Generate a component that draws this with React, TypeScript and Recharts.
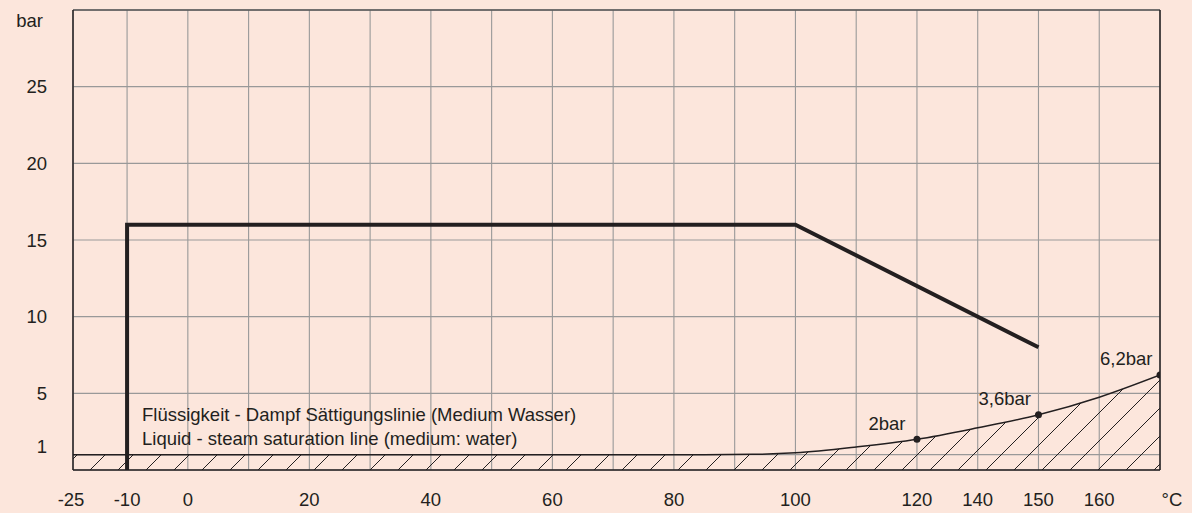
import React from "react";
import {
  ComposedChart,
  XAxis,
  YAxis,
  CartesianGrid,
  Area,
  Line,
  Scatter,
  LabelList,
  ReferenceLine,
  ReferenceDot,
} from "recharts";

// x positions are grid columns (the temperature axis is not linear)
const xTickPos = [-0.89, 0, 1, 2, 3, 4, 5, 6, 7, 8, 9, 10, 11, 12, 13, 14, 15, 16, 17];
const xTickLabels = [
  "-25", "-10", "0", "", "20", "", "40", "", "60", "", "80", "",
  "100", "", "120", "140", "150", "160", "°C",
];

const yTicks = [1, 5, 10, 15, 20, 25, 30];
const yTickLabels = ["1", "5", "10", "15", "20", "25", "bar"];

// max. operating pressure
const limitPos = [0, 0, 11, 15];
const limitBar = [0, 16, 16, 8];

// saturation line (hatched area below)
const satPos = [-0.89, 0, 2, 4, 6, 8, 9.5, 10.3, 11, 12, 13, 14, 15, 16, 17];
const satBar = [1, 1, 1, 1, 1, 1, 1, 1.02, 1.12, 1.5, 2, 2.75, 3.6, 4.75, 6.2];

const markPos = [13, 15, 17];
const markBar = [2, 3.6, 6.2];
const markLabels = ["2bar", "3,6bar", "6,2bar"];

const noteLines = [
  "Flüssigkeit - Dampf Sättigungslinie (Medium Wasser)",
  "Liquid - steam saturation line (medium: water)",
];

const limitData = limitPos.map((pos, i) => ({ pos, p: limitBar[i] }));
const satData = satPos.map((pos, i) => ({ pos, p: satBar[i] }));
const markData = markPos.map((pos, i) => ({ pos, p: markBar[i], label: markLabels[i] }));

const BG = "#FCE6DC";
const INK = "#231f20";
const FONT = "'Liberation Sans', Arial, sans-serif";
const FS = 18.5;

const XTick = (props: any) => {
  const { x, y, payload } = props;
  const i = xTickPos.indexOf(payload.value);
  const label = xTickLabels[i] ?? "";
  const dx = label === "°C" ? 12 : label === "-25" ? -2 : 0;
  return (
    <text x={x + dx} y={y} dy={36} textAnchor="middle" fontSize={FS} fill={INK} fontFamily={FONT}>
      {label}
    </text>
  );
};

const YTick = (props: any) => {
  const { x, y, payload } = props;
  const i = yTicks.indexOf(payload.value);
  const label = yTickLabels[i] ?? "";
  let dy = 6.5;
  let dx = -26;
  if (label === "1") dy = -1.5;
  if (label === "bar") {
    dy = 17;
    dx = -30;
  }
  return (
    <text x={x + dx} y={y} dy={dy} textAnchor="end" fontSize={FS} fill={INK} fontFamily={FONT}>
      {label}
    </text>
  );
};

const MarkLabel = (props: any) => {
  const { x, y, value } = props;
  const dx = value === "2bar" ? -7 : -3;
  return (
    <text x={x + dx} y={y} dy={-5} textAnchor="end" fontSize={FS} fill={INK} fontFamily={FONT}>
      {value}
    </text>
  );
};

const Note = (props: any) => {
  const { viewBox } = props;
  return (
    <text x={viewBox.x} y={viewBox.y} fontSize={FS} fill={INK} fontFamily={FONT}>
      {noteLines.map((t, i) => (
        <tspan key={i} x={viewBox.x} dy={i === 0 ? 0 : 24}>
          {t}
        </tspan>
      ))}
    </text>
  );
};

const MarkDot = (props: any) => <circle cx={props.cx} cy={props.cy} r={3.5} fill={INK} />;

export default function App() {
  return (
    <div style={{ position: "fixed", left: 0, top: 0, width: 1192, height: 513, background: BG }}>
      <svg width={0} height={0} style={{ position: "absolute" }}>
        <defs>
          <pattern id="hatch" patternUnits="userSpaceOnUse" width={28} height={28}>
            <path d="M0,28 L28,0 M-7,7 L7,-7 M21,35 L35,21" stroke={INK} strokeWidth={1} />
          </pattern>
        </defs>
      </svg>
      <ComposedChart
        width={1192}
        height={513}
        margin={{ top: 10, right: 32, bottom: 0, left: 0 }}
      >
        <CartesianGrid stroke="#999999" strokeWidth={1.1} />
        <XAxis
          dataKey="pos"
          type="number"
          domain={[-0.89, 17]}
          ticks={xTickPos}
          interval={0}
          allowDataOverflow
          height={43}
          tickSize={0}
          tickMargin={0}
          tick={<XTick />}
          axisLine={{ stroke: INK, strokeWidth: 1.5 }}
          tickLine={false}
        />
        <YAxis
          type="number"
          domain={[0, 30]}
          ticks={yTicks}
          interval={0}
          allowDataOverflow
          width={73}
          tickSize={0}
          tickMargin={0}
          tick={<YTick />}
          axisLine={{ stroke: INK, strokeWidth: 1.5 }}
          tickLine={false}
        />
        <Area
          data={satData}
          dataKey="p"
          type="monotone"
          stroke={INK}
          strokeWidth={1.5}
          fill="url(#hatch)"
          fillOpacity={1}
          baseValue={0}
          dot={false}
          activeDot={false}
          isAnimationActive={false}
        />
        <Line
          data={limitData}
          dataKey="p"
          type="linear"
          stroke={INK}
          strokeWidth={4}
          strokeLinejoin="miter"
          dot={false}
          activeDot={false}
          isAnimationActive={false}
        />
        <Scatter data={markData} dataKey="p" shape={<MarkDot />} isAnimationActive={false}>
          <LabelList dataKey="label" content={<MarkLabel />} />
        </Scatter>
        <ReferenceLine y={30} stroke="#555" strokeWidth={1.5} />
        <ReferenceLine x={17} stroke={INK} strokeWidth={1.5} />
        <ReferenceDot x={0.246} y={3.2} r={0} fill="none" stroke="none" label={<Note />} />
      </ComposedChart>
    </div>
  );
}
